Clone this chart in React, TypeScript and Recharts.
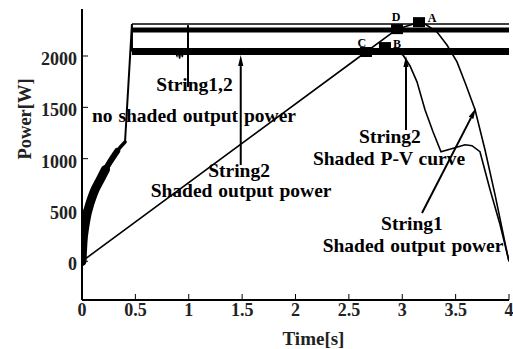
import React from 'react';
import {
  ComposedChart,
  Line,
  Scatter,
  XAxis,
  YAxis,
  ReferenceLine,
  ReferenceDot,
} from 'recharts';

const FONT = "'Liberation Serif', 'Times New Roman', serif";

// Axis ticks
const timeTicks = [0, 0.5, 1, 1.5, 2, 2.5, 3, 3.5, 4];
const topTimeTicks = [0.5, 1, 1.5, 2, 2.5, 3, 3.5];
const powerTicks = [0, 500, 1000, 1500, 2000];

// String1,2 unshaded: start-up of the MPPT (t [s], p [W])
const startupPower = [
  { t: 0, p: 0 },
  { t: 0.01, p: 200 },
  { t: 0.025, p: 330 },
  { t: 0.045, p: 450 },
  { t: 0.075, p: 565 },
  { t: 0.11, p: 670 },
  { t: 0.17, p: 795 },
  { t: 0.22, p: 895 },
  { t: 0.26, p: 965 },
  { t: 0.33, p: 1075 },
  { t: 0.403, p: 1162 },
];
const startupLower = startupPower.filter((d) => d.t <= 0.22);
const startupMiddle = startupPower.filter((d) => d.t <= 0.33);

// Jump to full power once the strings are connected
const jumpPower = [
  { t: 0.403, p: 1162 },
  { t: 0.468, p: 2312 },
  { t: 0.468, p: 2043 },
];

// Steady unshaded output power bands
const unshadedUpper = [
  { t: 0.468, p: 2312 },
  { t: 4, p: 2312 },
];
const unshadedMiddle = [
  { t: 0.468, p: 2253 },
  { t: 4, p: 2253 },
];
const unshadedLower = [
  { t: 0.468, p: 2043 },
  { t: 4, p: 2043 },
];
const lowerRipple = [
  { t: 0.87, p: 2043 },
  { t: 0.89, p: 2000 },
  { t: 0.9, p: 2040 },
  { t: 0.915, p: 1975 },
  { t: 0.925, p: 2040 },
  { t: 0.94, p: 1990 },
  { t: 0.95, p: 2043 },
];

// String2 shaded output power: operating point ramp through C, D to A
const shadedRamp = [
  { t: 0, p: 0 },
  { t: 2.66, p: 2039 },
  { t: 2.951, p: 2262 },
  { t: 3.157, p: 2330 },
];

// String1 shaded output power (falls from A)
const string1Shaded = [
  { t: 3.157, p: 2330 },
  { t: 3.213, p: 2311 },
  { t: 3.326, p: 2233 },
  { t: 3.419, p: 2107 },
  { t: 3.513, p: 1942 },
  { t: 3.597, p: 1718 },
  { t: 3.682, p: 1476 },
  { t: 3.775, p: 1087 },
  { t: 3.869, p: 650 },
  { t: 3.991, p: 39 },
  { t: 4, p: 0 },
];

// String2 shaded P-V curve (falls from B, local hump, down to zero)
const string2PV = [
  { t: 2.838, p: 2087 },
  { t: 2.93, p: 2049 },
  { t: 3.007, p: 2010 },
  { t: 3.073, p: 1903 },
  { t: 3.138, p: 1748 },
  { t: 3.213, p: 1476 },
  { t: 3.288, p: 1262 },
  { t: 3.363, p: 1068 },
  { t: 3.494, p: 1107 },
  { t: 3.588, p: 1136 },
  { t: 3.653, p: 1126 },
  { t: 3.728, p: 1068 },
  { t: 3.822, p: 699 },
  { t: 3.916, p: 359 },
  { t: 3.991, p: 39 },
  { t: 4, p: 0 },
];

// Operating points
const markerPoints = [
  { t: 3.157, p: 2330, name: 'A' },
  { t: 2.838, p: 2087, name: 'B' },
  { t: 2.66, p: 2039, name: 'C' },
  { t: 2.951, p: 2262, name: 'D' },
];

// Annotation text lines, anchored at the baseline centre
const noteTexts = [
  { t: 1.054, p: 1662, text: 'String1,2' },
  { t: 1.049, p: 1357, text: 'no shaded output power' },
  { t: 1.471, p: 821, text: 'String2' },
  { t: 1.49, p: 626, text: 'Shaded output power' },
  { t: 2.885, p: 1152, text: 'String2' },
  { t: 2.876, p: 938, text: 'Shaded P-V curve' },
  { t: 3.091, p: 305, text: 'String1' },
  { t: 3.101, p: 91, text: 'Shaded output power' },
];

// Leader lines: from (t1,p1) to (t2,p2), arrow head at the end when set
const noteLeaders = [
  { t1: 0.993, p1: 1698, t2: 0.993, p2: 2301, head: false },
  { t1: 1.487, p1: 938, t2: 1.487, p2: 2009, head: true },
  { t1: 3.035, p1: 1279, t2: 3.035, p2: 2000, head: true },
  { t1: 3.185, p1: 470, t2: 3.691, p2: 1493, head: true },
];

const markerLabelOffset: Record<string, { dx: number; dy: number }> = {
  A: { dx: 13, dy: 0 },
  B: { dx: 12, dy: 1 },
  C: { dx: -4, dy: -5 },
  D: { dx: -1, dy: -8 },
};

const LeftTick = (props: any) => {
  const { x, y, payload } = props;
  return (
    <g>
      <line x1={x} y1={y} x2={x + 6} y2={y} stroke="#000" strokeWidth={1} />
      <text
        x={x - 5}
        y={y + 9}
        textAnchor="end"
        fontFamily={FONT}
        fontWeight="bold"
        fontSize={18}
        fill="#222"
      >
        {payload.value}
      </text>
    </g>
  );
};

const RightTick = (props: any) => {
  const { x, y } = props;
  return <line x1={x} y1={y} x2={x - 5} y2={y} stroke="#000" strokeWidth={1} />;
};

const BottomTick = (props: any) => {
  const { x, y, payload } = props;
  return (
    <g>
      <line x1={x} y1={y} x2={x} y2={y - 6} stroke="#000" strokeWidth={1} />
      <text
        x={x}
        y={y + 16}
        textAnchor="middle"
        fontFamily={FONT}
        fontWeight="bold"
        fontSize={18}
        fill="#222"
      >
        {payload.value}
      </text>
    </g>
  );
};

const TopTick = (props: any) => {
  const { x, y } = props;
  return <line x1={x} y1={y} x2={x} y2={y + 6} stroke="#000" strokeWidth={1} />;
};

const MarkerShape = (props: any) => {
  const { cx, cy, payload } = props;
  const off = markerLabelOffset[payload.name];
  return (
    <g>
      <rect x={cx - 6} y={cy - 5} width={12} height={10} fill="#000" />
      <text
        x={cx + off.dx}
        y={cy + off.dy}
        textAnchor="middle"
        fontFamily={FONT}
        fontWeight="bold"
        fontSize={12}
        fill="#000"
      >
        {payload.name}
      </text>
    </g>
  );
};

const LeaderShape = (head: boolean) => (props: any) => {
  const { x1, y1, x2, y2 } = props;
  const len = Math.hypot(x2 - x1, y2 - y1) || 1;
  const ux = (x2 - x1) / len;
  const uy = (y2 - y1) / len;
  const hl = 11;
  const hw = 2.6;
  const bx = x2 - ux * hl;
  const by = y2 - uy * hl;
  return (
    <g>
      <line
        x1={x1}
        y1={y1}
        x2={head ? bx : x2}
        y2={head ? by : y2}
        stroke="#000"
        strokeWidth={2}
      />
      {head && (
        <polygon
          points={`${x2},${y2} ${bx - uy * hw},${by + ux * hw} ${bx + uy * hw},${by - ux * hw}`}
          fill="#000"
        />
      )}
    </g>
  );
};

const NoteText = (text: string) => (props: any) => (
  <text
    x={props.cx}
    y={props.cy}
    textAnchor="middle"
    fontFamily={FONT}
    fontWeight="bold"
    fontSize={19.5}
    wordSpacing={1}
    fill="#000"
  >
    {text}
  </text>
);

const series = (
  data: any[],
  width: number,
  key: string,
  smooth = false,
) => (
  <Line
    key={key}
    data={data}
    dataKey="p"
    type={smooth ? 'monotone' : 'linear'}
    stroke="#000"
    strokeWidth={width}
    strokeLinejoin={smooth ? 'round' : 'miter'}
    strokeLinecap={smooth ? 'round' : 'butt'}
    dot={false}
    activeDot={false}
    isAnimationActive={false}
  />
);

export default function App() {
  return (
    <div style={{ position: 'absolute', left: 0, top: 0, background: '#fff' }}>
      <ComposedChart
        width={513}
        height={349}
        margin={{ top: 9, right: 4, bottom: 0, left: 0 }}
      >
        <XAxis
          dataKey="t"
          type="number"
          domain={[0, 4]}
          ticks={timeTicks}
          interval={0}
          height={49}
          tickSize={0}
          tickMargin={0}
          tickLine={false}
          axisLine={{ stroke: '#000', strokeWidth: 2 }}
          tick={<BottomTick />}
          allowDataOverflow
          label={{
            value: 'Time[s]',
            position: 'insideBottom',
            offset: 4,
            dx: 18,
            fontFamily: FONT,
            fontWeight: 'bold',
            fontSize: 19,
            fill: '#222',
          }}
        />
        <XAxis
          xAxisId="top"
          orientation="top"
          dataKey="t"
          type="number"
          domain={[0, 4]}
          ticks={topTimeTicks}
          interval={0}
          height={0}
          tickSize={0}
          tickMargin={0}
          tickLine={false}
          axisLine={{ stroke: '#000', strokeWidth: 2 }}
          tick={<TopTick />}
          allowDataOverflow
        />
        <YAxis
          type="number"
          domain={[-377, 2458]}
          ticks={powerTicks}
          interval={0}
          width={82}
          tickSize={0}
          tickMargin={0}
          tickLine={false}
          axisLine={{ stroke: '#000', strokeWidth: 2 }}
          tick={<LeftTick />}
          allowDataOverflow
          label={{
            value: 'Power[W]',
            angle: -90,
            position: 'insideLeft',
            offset: 24,
            dy: 5,
            fontFamily: FONT,
            fontWeight: 'bold',
            fontSize: 18.5,
            fill: '#222',
          }}
        />
        <YAxis
          yAxisId="right"
          orientation="right"
          type="number"
          domain={[-377, 2458]}
          ticks={powerTicks}
          interval={0}
          width={0}
          tickSize={0}
          tickMargin={0}
          tickLine={false}
          axisLine={{ stroke: '#000', strokeWidth: 2 }}
          tick={<RightTick />}
          allowDataOverflow
        />

        {series(startupLower, 9, 'startupLower', true)}
        {series(startupMiddle, 6, 'startupMiddle', true)}
        {series(startupPower, 3.5, 'startup', true)}
        {series(jumpPower, 2, 'jump')}
        {series(unshadedUpper, 1.5, 'upper')}
        {series(unshadedMiddle, 5, 'middle')}
        {series(unshadedLower, 7, 'lower')}
        {series(lowerRipple, 1.3, 'ripple')}
        {series(shadedRamp, 1.6, 'ramp')}
        {series(string1Shaded, 1.6, 'string1')}
        {series(string2PV, 1.6, 'string2pv')}

        {noteLeaders.map((n, i) => (
          <ReferenceLine
            key={`leader-${i}`}
            segment={[
              { x: n.t1, y: n.p1 },
              { x: n.t2, y: n.p2 },
            ]}
            ifOverflow="visible"
            shape={LeaderShape(n.head)}
          />
        ))}

        {noteTexts.map((n, i) => (
          <ReferenceDot
            key={`note-${i}`}
            x={n.t}
            y={n.p}
            r={1}
            ifOverflow="visible"
            shape={NoteText(n.text)}
          />
        ))}

        <Scatter
          data={markerPoints}
          dataKey="p"
          shape={<MarkerShape />}
          isAnimationActive={false}
        />
      </ComposedChart>
    </div>
  );
}
